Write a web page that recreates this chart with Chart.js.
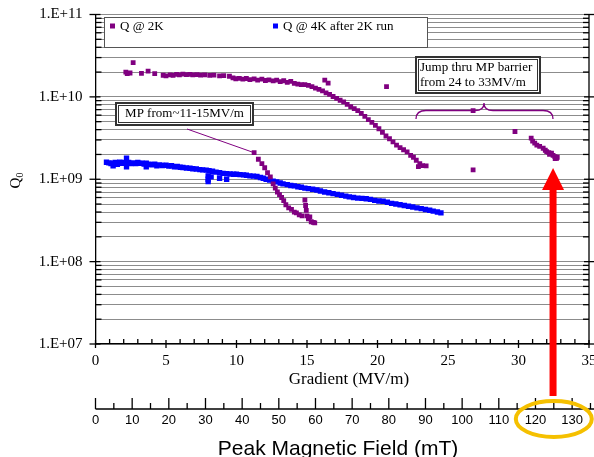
<!DOCTYPE html>
<html>
<head>
<meta charset="utf-8">
<script src="https://cdn.jsdelivr.net/npm/chart.js@4.4.1/dist/chart.umd.min.js"></script>
<style>
  body { margin: 0; background: #fff; }
  canvas { display: block; }
</style>
</head>
<body>
<canvas id="chart" width="594" height="457"></canvas>
<script>
// Q @ 2K  (gradient in MV/m, Q0)
const q2kGradient = [
  2.15, 2.25, 2.45, 2.67, 3.26, 3.73, 4.2, 4.8, 5.0, 5.3, 5.5, 5.75, 5.95, 6.2, 6.45, 6.7, 6.9,
  7.2, 7.45, 7.75, 8.1, 8.4, 8.8, 9.1, 9.5, 9.75, 9.95, 10.2, 10.45, 10.7, 10.95, 11.25, 11.5,
  11.8, 12.05, 12.3, 12.6, 12.85, 13.1, 13.35, 13.6, 13.85, 14.1, 14.35, 14.6, 14.85, 15.1,
  15.35, 15.6, 15.85, 16.1, 16.35, 16.26, 16.5, 16.6, 16.85, 17.1, 17.35, 17.6, 17.85, 18.1,
  18.35, 18.6, 18.85, 19.1, 19.35, 19.6, 19.85, 20.1, 20.35, 20.6, 20.64, 20.85, 21.1, 21.35,
  21.6, 21.85, 22.1, 22.35, 22.55, 22.75, 22.9, 23.0, 23.2, 23.45,
  // multipacting drop
  11.25, 11.55, 11.8, 12.0, 12.2, 12.4, 12.6, 12.75, 12.9, 13.05, 13.2, 13.35, 13.5, 13.7,
  13.9, 14.1, 14.25, 14.45, 14.65, 14.85, 14.9, 14.95, 15.0, 15.1, 15.2, 15.3, 15.45, 15.55,
  // after the jump
  26.78, 26.78, 29.75, 30.9, 31.0, 31.15, 31.3, 31.5, 31.75, 31.9, 32.0, 32.15, 32.2, 32.34,
  32.45, 32.58, 32.7, 32.6, 32.75
];
const q2kQ = [
  2.0e10, 1.92e10, 1.95e10, 2.6e10, 1.93e10, 2.05e10, 1.92e10, 1.83e10, 1.8e10, 1.85e10, 1.82e10,
  1.88e10, 1.85e10, 1.89e10, 1.86e10, 1.88e10, 1.85e10, 1.86e10, 1.84e10, 1.85e10, 1.82e10,
  1.84e10, 1.8e10, 1.81e10, 1.78e10, 1.7e10, 1.66e10, 1.68e10, 1.64e10, 1.67e10, 1.62e10,
  1.65e10, 1.6e10, 1.64e10, 1.58e10, 1.61e10, 1.56e10, 1.6e10, 1.53e10, 1.57e10, 1.5e10,
  1.54e10, 1.46e10, 1.43e10, 1.41e10, 1.41e10, 1.38e10, 1.33e10, 1.28e10, 1.23e10, 1.18e10,
  1.12e10, 1.6e10, 1.47e10, 1.07e10, 1.01e10, 9.6e9, 9.1e9, 8.7e9, 8.1e9, 7.6e9, 7.2e9, 6.8e9,
  6.3e9, 5.8e9, 5.3e9, 4.9e9, 4.5e9, 4.1e9, 3.7e9, 3.35e9, 1.33e10, 3.1e9, 2.85e9, 2.6e9,
  2.42e9, 2.28e9, 2.15e9, 1.95e9, 1.85e9, 1.7e9, 1.42e9, 1.55e9, 1.46e9, 1.45e9,
  2.1e9, 1.75e9, 1.55e9, 1.38e9, 1.2e9, 1.07e9, 0.88e9, 0.78e9, 0.7e9, 0.65e9, 0.6e9, 0.55e9,
  0.49e9, 0.45e9, 0.43e9, 0.4e9, 0.39e9, 0.37e9, 0.36e9, 0.56e9, 0.48e9, 0.42e9, 0.36e9,
  0.33e9, 0.35e9, 0.305e9, 0.3e9, 0.295e9,
  6.8e9, 1.3e9, 3.8e9, 3.15e9, 2.9e9, 2.75e9, 2.6e9, 2.5e9, 2.38e9, 2.25e9, 2.16e9, 2.1e9,
  2.0e9, 2.07e9, 1.95e9, 1.88e9, 1.8e9, 1.78e9, 1.85e9
];

// Q @ 4K after 2K run
const q4kGradient = [
  0.78, 0.95, 1.1, 1.25, 1.25, 1.4, 1.55, 1.72, 1.9, 2.05, 2.2, 2.2, 2.35, 2.5, 2.67, 2.85, 3.0,
  3.14, 3.3, 3.45, 3.6, 3.6, 3.8, 4.0, 4.2, 4.35, 4.55, 4.75, 5.0, 5.2, 5.4, 5.6, 5.8, 6.0, 6.2,
  6.45, 6.7, 6.9, 7.15, 7.4, 7.6, 7.85, 7.99, 7.99, 7.99, 8.05, 8.2, 8.3, 8.55, 8.8, 8.8, 9.05,
  9.3, 9.3, 9.55, 9.8, 10.0, 10.25, 10.5, 10.7, 10.95, 11.2, 11.45, 11.7, 11.9, 12.1, 12.35,
  12.6, 12.85, 13.1, 13.3, 13.6, 13.85, 14.1, 14.35, 14.6, 14.85, 15.1, 15.4, 15.7, 15.95,
  16.25, 16.55, 16.85, 17.15, 17.45, 17.75, 18.0, 18.3, 18.6, 18.9, 19.2, 19.5, 19.8, 20.1,
  20.4, 20.7, 21.0, 21.3, 21.6, 21.9, 22.2, 22.5, 22.8, 23.1, 23.4, 23.7, 23.95, 24.25, 24.5
];
const q4kQ = [
  1.61e9, 1.58e9, 1.55e9, 1.57e9, 1.46e9, 1.6e9, 1.52e9, 1.61e9, 1.56e9, 1.6e9, 1.8e9, 1.42e9,
  1.6e9, 1.55e9, 1.58e9, 1.55e9, 1.6e9, 1.56e9, 1.57e9, 1.53e9, 1.57e9, 1.42e9, 1.52e9, 1.5e9,
  1.52e9, 1.46e9, 1.49e9, 1.47e9, 1.48e9, 1.45e9, 1.46e9, 1.42e9, 1.43e9, 1.4e9, 1.39e9,
  1.37e9, 1.36e9, 1.34e9, 1.33e9, 1.31e9, 1.3e9, 1.29e9, 1.1e9, 1.0e9, 0.935e9, 1.27e9, 1.07e9,
  1.25e9, 1.22e9, 1.03e9, 1.2e9, 1.18e9, 1.0e9, 1.17e9, 1.16e9, 1.15e9, 1.15e9, 1.14e9, 1.13e9,
  1.12e9, 1.1e9, 1.09e9, 1.08e9, 1.05e9, 1.03e9, 1.0e9, 0.98e9, 0.95e9, 0.93e9, 0.9e9, 0.88e9,
  0.86e9, 0.84e9, 0.83e9, 0.81e9, 0.8e9, 0.78e9, 0.77e9, 0.755e9, 0.74e9, 0.72e9, 0.7e9,
  0.685e9, 0.67e9, 0.655e9, 0.64e9, 0.625e9, 0.61e9, 0.6e9, 0.59e9, 0.585e9, 0.58e9, 0.57e9,
  0.555e9, 0.545e9, 0.54e9, 0.525e9, 0.51e9, 0.5e9, 0.49e9, 0.48e9, 0.47e9, 0.46e9, 0.45e9,
  0.44e9, 0.43e9, 0.42e9, 0.41e9, 0.4e9, 0.39e9
];

const decades = [1e7, 1e8, 1e9, 1e10, 1e11];
const mantissas = [1, 2, 3, 4, 5, 6, 7, 8, 9];
const peakTicks = [0, 10, 20, 30, 40, 50, 60, 70, 80, 90, 100, 110, 120, 130];

const purple = '#800080';
const blue = '#0000ff';
const serif = '"Liberation Serif", "Times New Roman", serif';
const sans = '"Liberation Sans", Arial, sans-serif';

const pts = (xs, ys) => xs.map((v, i) => ({ x: v, y: ys[i] }));

const yTicks = [];
decades.slice(0, -1).forEach(d => mantissas.forEach(m => yTicks.push(d * m)));
yTicks.push(1e11);

function line(ctx, x1, y1, x2, y2) {
  ctx.beginPath(); ctx.moveTo(x1, y1); ctx.lineTo(x2, y2); ctx.stroke();
}

function noteBox(ctx, l, t, r, b) {
  ctx.fillStyle = '#fff';
  ctx.fillRect(l, t, r - l, b - t);
  ctx.strokeStyle = '#333';
  ctx.lineWidth = 2;
  ctx.strokeRect(l + 1, t + 1, r - l - 2, b - t - 2);
  ctx.lineWidth = 1;
  ctx.strokeRect(l + 3.5, t + 3.5, r - l - 7, b - t - 7);
}

const decor = {
  id: 'decor',
  afterDraw(chart) {
    const { ctx, chartArea: a, scales: { x, y, x2 } } = chart;
    ctx.save();
    ctx.strokeStyle = '#000';
    ctx.lineWidth = 1.3;

    // right axis line
    line(ctx, a.right, a.top, a.right, a.bottom);

    // y tick marks, both sides
    yTicks.forEach(v => {
      const py = y.getPixelForValue(v);
      if (decades.includes(v)) {
        line(ctx, a.left - 6, py, a.left + 5, py);
        line(ctx, a.right - 5, py, a.right + 6, py);
      } else {
        line(ctx, a.left, py, a.left + 6, py);
        line(ctx, a.right - 6, py, a.right, py);
      }
    });

    // x tick marks
    for (let v = 0; v <= 35; v++) {
      const px = x.getPixelForValue(v);
      if (v % 5 === 0) line(ctx, px, a.bottom - 4, px, a.bottom + 4);
      else line(ctx, px, a.bottom - 5, px, a.bottom);
    }

    // axis titles
    ctx.fillStyle = '#000';
    ctx.textAlign = 'center';
    ctx.textBaseline = 'middle';
    ctx.font = '17px ' + serif;
    ctx.fillText('Gradient (MV/m)', 349, 379.5);

    ctx.save();
    ctx.translate(16, 180);
    ctx.rotate(-Math.PI / 2);
    ctx.font = '15px ' + serif;
    ctx.fillText('Q', -3, 0);
    ctx.font = '10px ' + serif;
    ctx.fillText('0', 5, 4);
    ctx.restore();

    // legend
    ctx.fillStyle = '#fff';
    ctx.fillRect(104, 17, 324, 31);
    ctx.strokeStyle = '#555';
    ctx.lineWidth = 1;
    ctx.strokeRect(104.5, 17.5, 323, 30);
    ctx.font = '13px ' + serif;
    ctx.textBaseline = 'middle';
    ctx.textAlign = 'left';
    ctx.fillStyle = purple;
    ctx.fillRect(110, 23.5, 5, 5);
    ctx.fillStyle = '#000';
    ctx.fillText('Q @ 2K', 120, 26.5);
    ctx.fillStyle = blue;
    ctx.fillRect(273, 23.5, 5, 5);
    ctx.fillStyle = '#000';
    ctx.fillText('Q @ 4K after 2K run', 283, 26.5);

    // MP note + leader line
    ctx.strokeStyle = purple;
    ctx.lineWidth = 1;
    line(ctx, 187, 129, x.getPixelForValue(11.25), y.getPixelForValue(2.1e9));
    noteBox(ctx, 115, 102, 254, 126);
    ctx.fillStyle = '#000';
    ctx.font = '13px ' + serif;
    ctx.textAlign = 'center';
    ctx.fillText('MP from~11-15MV/m', 184.5, 114);

    // jump note
    noteBox(ctx, 415, 56, 541, 94);
    ctx.fillStyle = '#000';
    ctx.textAlign = 'left';
    ctx.fillText('Jump thru MP barrier', 420, 67.5);
    ctx.fillText('from 24 to 33MV/m', 420, 83);

    // brace
    ctx.strokeStyle = purple;
    ctx.lineWidth = 1.3;
    ctx.beginPath();
    ctx.moveTo(416, 119);
    ctx.quadraticCurveTo(416, 110.5, 426, 110.5);
    ctx.lineTo(475, 110.5);
    ctx.quadraticCurveTo(484, 110.5, 484, 103);
    ctx.quadraticCurveTo(484, 110.5, 493, 110.5);
    ctx.lineTo(543, 110.5);
    ctx.quadraticCurveTo(553, 110.5, 553, 119);
    ctx.stroke();

    // peak magnetic field axis
    const pyAx = 409;
    ctx.strokeStyle = '#000';
    ctx.lineWidth = 1.5;
    line(ctx, x2.getPixelForValue(0), pyAx, 594, pyAx);
    ctx.lineWidth = 1.3;
    for (let v = 0; v <= 135; v += 5) {
      const px = x2.getPixelForValue(v);
      line(ctx, px, pyAx, px, pyAx - (v % 10 === 0 ? 11 : 6));
    }
    ctx.fillStyle = '#000';
    ctx.font = '13px ' + sans;
    ctx.textAlign = 'center';
    ctx.textBaseline = 'middle';
    peakTicks.forEach(v => ctx.fillText(String(v), x2.getPixelForValue(v), 420.5));
    ctx.font = '21px ' + sans;
    ctx.textBaseline = 'alphabetic';
    ctx.fillText('Peak Magnetic Field (mT)', 338, 455);

    // red arrow
    const ax = x.getPixelForValue(32.45);
    const tip = y.getPixelForValue(1.37e9);
    ctx.fillStyle = '#ff0000';
    ctx.fillRect(ax - 3.5, tip + 20, 7, 396 - tip - 20);
    ctx.beginPath();
    ctx.moveTo(ax, tip);
    ctx.lineTo(ax - 11, tip + 22);
    ctx.lineTo(ax + 11, tip + 22);
    ctx.closePath();
    ctx.fill();

    // yellow ellipse
    ctx.strokeStyle = '#f5c000';
    ctx.lineWidth = 4;
    ctx.beginPath();
    ctx.ellipse(x2.getPixelForValue(125), 419, 38, 18, 0, 0, Math.PI * 2);
    ctx.stroke();

    ctx.restore();
  }
};

new Chart(document.getElementById('chart'), {
  type: 'scatter',
  data: {
    datasets: [
      {
        label: 'Q @ 2K',
        data: pts(q2kGradient, q2kQ),
        backgroundColor: purple,
        borderColor: purple,
        pointStyle: 'rect',
        pointRadius: 3.4,
        borderWidth: 0
      },
      {
        label: 'Q @ 4K after 2K run',
        data: pts(q4kGradient, q4kQ),
        backgroundColor: blue,
        borderColor: blue,
        pointStyle: 'rect',
        pointRadius: 3.8,
        borderWidth: 0
      }
    ]
  },
  options: {
    responsive: false,
    devicePixelRatio: 1,
    animation: false,
    layout: { padding: { left: 0, right: 5, top: 14.5, bottom: 0 } },
    plugins: {
      legend: { display: false },
      tooltip: { enabled: false }
    },
    scales: {
      x: {
        type: 'linear',
        min: 0,
        max: 35,
        afterFit: s => { s.height = 113; s.paddingLeft = 0; s.paddingRight = 0; },
        grid: { display: false },
        border: { display: true, color: '#000', width: 1.3 },
        ticks: {
          stepSize: 5,
          color: '#000',
          padding: 0,
          font: { family: serif, size: 15 }
        }
      },
      x2: {
        type: 'linear',
        position: 'bottom',
        display: false,
        min: 0,
        max: 134.6
      },
      y: {
        type: 'logarithmic',
        min: 1e7,
        max: 1e11,
        afterFit: s => { s.width = 95.5; s.paddingTop = 0; s.paddingBottom = 0; },
        afterBuildTicks: s => { s.ticks = yTicks.map(v => ({ value: v })); },
        grid: { color: '#8c8c8c', lineWidth: 1, drawTicks: false },
        border: { display: true, color: '#000', width: 1.3 },
        ticks: {
          autoSkip: false,
          color: '#000',
          padding: 13,
          font: { family: serif, size: 15 },
          callback: v => {
            const e = Math.round(Math.log10(v));
            return Math.abs(v - Math.pow(10, e)) < 1e-6 * v ? '1.E+' + String(e).padStart(2, '0') : '';
          }
        }
      }
    }
  },
  plugins: [decor]
});
</script>
</body>
</html>
